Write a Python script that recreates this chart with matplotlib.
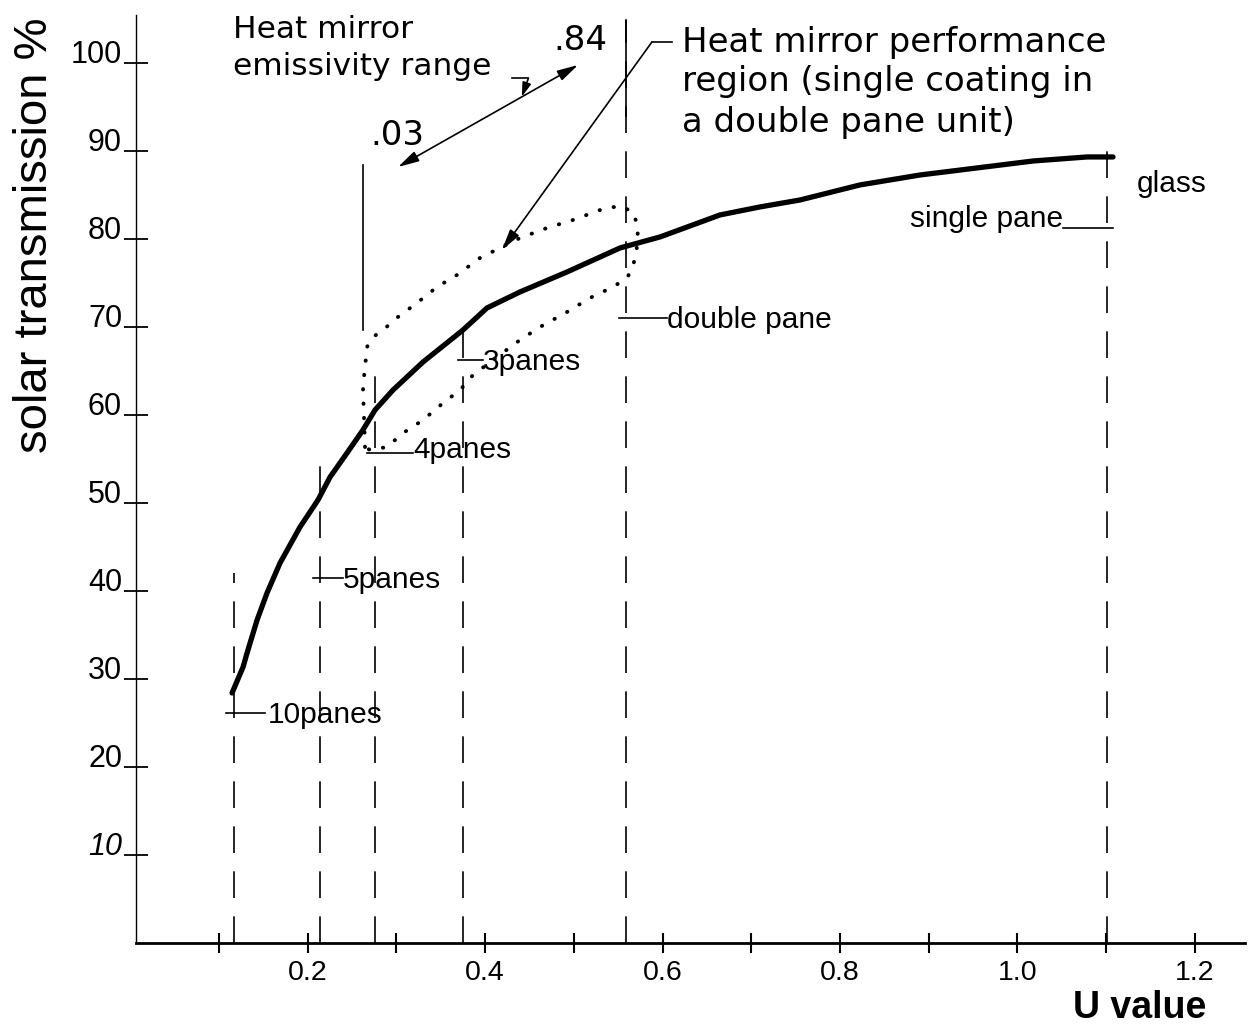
import matplotlib
matplotlib.use("Agg")
import matplotlib.pyplot as plt

# ---------------- data ----------------
# main curve: solar transmission (%) versus U value
u_curve = [0.1147, 0.1271, 0.1316, 0.1429, 0.1541, 0.1688, 0.1913, 0.2116,
           0.2252, 0.2443, 0.2623, 0.2759, 0.2962, 0.3300, 0.3751, 0.4021,
           0.4393, 0.4923, 0.5521, 0.5972, 0.6648, 0.7099, 0.7550, 0.8226,
           0.8903, 0.9545, 1.0177, 1.0786, 1.1079]
t_curve = [28.41, 31.36, 32.95, 36.70, 39.77, 43.18, 47.27, 50.34,
           52.95, 55.68, 58.30, 60.57, 62.84, 66.02, 69.66, 72.16,
           73.98, 76.25, 78.98, 80.23, 82.73, 83.64, 84.43, 86.14,
           87.27, 88.07, 88.86, 89.32, 89.32]

# dotted "heat mirror performance region" outline
region_u = [0.2646, 0.2623, 0.2669, 0.2736, 0.2849, 0.3018, 0.3232, 0.3458,
            0.3683, 0.3942, 0.4168, 0.4393, 0.4698, 0.4991, 0.5329, 0.5521,
            0.5667, 0.5724, 0.5712, 0.5667, 0.5600, 0.5442, 0.5183, 0.4923,
            0.4619, 0.4393, 0.4134, 0.3864, 0.3718, 0.3526, 0.3300, 0.3075,
            0.2894, 0.2703, 0.2646]
region_t = [56.36, 63.18, 67.73, 68.86, 69.66, 71.14, 72.73, 74.55,
            75.91, 77.84, 78.98, 80.11, 81.25, 82.16, 83.41, 83.75,
            83.07, 81.36, 79.09, 76.82, 75.57, 74.55, 73.30, 71.70,
            70.00, 68.52, 66.59, 64.55, 62.84, 61.36, 59.43, 57.95,
            56.36, 56.02, 56.36]

# glazing configurations (vertical reference lines)
pane_names = ["10panes", "5panes", "4panes", "3panes", "double pane", "single pane"]
pane_u = [0.117, 0.214, 0.276, 0.375, 0.559, 1.101]
pane_line_top = [42.0, 55.7, 66.0, 70.8, 104.9, 90.1]

# heat mirror emissivity range markers
emissivity_labels = [".03", ".84"]
emissivity_u = [0.262, 0.559]

x_ticks = [0.1, 0.2, 0.3, 0.4, 0.5, 0.6, 0.7, 0.8, 0.9, 1.0, 1.1, 1.2]
x_tick_labels = ["", "0.2", "", "0.4", "", "0.6", "", "0.8", "", "1.0", "", "1.2"]
y_ticks = [10, 20, 30, 40, 50, 60, 70, 80, 90, 100]
y_tick_labels = ["10", "20", "30", "40", "50", "60", "70", "80", "90", "100"]

# ---------------- figure ----------------
plt.rcParams["font.family"] = ["Liberation Sans", "DejaVu Sans"]
W, H = 1249, 1036
fig = plt.figure(figsize=(W / 100, H / 100), dpi=100)
ax = fig.add_axes([136 / W, 93 / H, 1109 / W, 928 / H])
ax.set_xlim(0.0064, 1.2567)
ax.set_ylim(0, 105.45)

for s in ("top", "right"):
    ax.spines[s].set_visible(False)
ax.spines["left"].set_linewidth(1.0)
ax.spines["bottom"].set_linewidth(2.0)

ax.set_xticks(x_ticks, labels=x_tick_labels, fontsize=20.5)
ax.set_yticks(y_ticks, labels=y_tick_labels, va="baseline", fontsize=22)
ax.tick_params(axis="y", direction="inout", length=17, width=1.3, pad=1.5)
ax.tick_params(axis="x", direction="inout", length=15, width=1.5, pad=5)
ax.get_yticklabels()[0].set_style("italic")

ax.set_ylabel("solar transmission %", fontsize=34, va="baseline")
ax.yaxis.set_label_coords(-0.0803, 0.7629)
ax.set_xlabel("U value", fontsize=27, fontweight="bold", va="baseline")
ax.xaxis.set_label_coords(0.9053, -0.0808)

# main curve
ax.plot(u_curve, t_curve, color="black", lw=3.8, solid_capstyle="round",
        solid_joinstyle="round", zorder=5)

# dotted performance region
ax.plot(region_u, region_t, color="black", lw=2.8, ls=(0, (0.1, 3.6)),
        dash_capstyle="round", zorder=4)

# vertical dashed pane lines
for u, top in zip(pane_u, pane_line_top):
    ax.plot([u, u], [0, top], color="black", lw=1.2, ls=(0, (16, 11)), zorder=3)
# solid top part of the .84 / double pane line
ax.plot([emissivity_u[1]] * 2, [94.0, 104.9], color="black", lw=1.2, zorder=3)
# solid .03 marker line
ax.plot([emissivity_u[0]] * 2, [69.7, 88.4], color="black", lw=1.2, zorder=3)

# pane labels with leader ticks
lab_fs = 21.5
leaders = [  # (x0, x1, y)
    (0.1081, 0.1518, 26.1),
    (0.2063, 0.2400, 41.5),
    (0.2667, 0.3185, 55.7),
    (0.3693, 0.3975, 66.25),
    (0.5509, 0.6049, 71.0),
    (1.0516, 1.1079, 81.25),
]
label_pos = [  # (x, baseline y, ha)
    (0.1551, 25.0, "left"),
    (0.2396, 40.3, "left"),
    (0.3187, 55.1, "left"),
    (0.3976, 65.1, "left"),
    (0.6049, 69.9, "left"),
    (1.0516, 81.4, "right"),
]
for name, (x0, x1, yl), (tx, ty, ha) in zip(pane_names, leaders, label_pos):
    ax.plot([x0, x1], [yl, yl], color="black", lw=1.2, zorder=3)
    ax.text(tx, ty, name, fontsize=lab_fs, ha=ha, va="baseline")
ax.text(1.135, 85.3, "glass", fontsize=lab_fs, ha="left", va="baseline")

# emissivity range annotation
lettering = ["DejaVu Sans"]
ax.text(0.1158, 102.8, "Heat mirror", fontsize=22.5, family=lettering, va="baseline")
ax.text(0.1158, 98.6, "emissivity range", fontsize=22.5, family=lettering, va="baseline")
ax.text(0.3007, 90.7, emissivity_labels[0], fontsize=24.5, family=lettering,
        ha="center", va="baseline")
ax.text(0.5071, 101.5, emissivity_labels[1], fontsize=24.5, family=lettering,
        ha="center", va="baseline")
ax.annotate("", xy=(0.3018, 88.18), xytext=(0.5048, 99.77),
            arrowprops=dict(arrowstyle="<|-|>,head_length=0.85,head_width=0.22",
                            mutation_scale=15, lw=1.2, color="black",
                            shrinkA=0, shrinkB=0))
ax.plot([0.4302, 0.4488], [98.26, 98.26], color="black", lw=1.2)
ax.annotate("", xy=(0.4414, 96.17), xytext=(0.4488, 98.26),
            arrowprops=dict(arrowstyle="-|>,head_length=0.7,head_width=0.22",
                            mutation_scale=12, lw=1.2, color="black",
                            shrinkA=0, shrinkB=0))

# performance region annotation
ax.text(0.6219, 101.25, "Heat mirror performance", fontsize=24.5, family=lettering,
        va="baseline")
ax.text(0.6219, 96.82, "region (single coating in", fontsize=24.5, family=lettering,
        va="baseline")
ax.text(0.6219, 92.16, "a double pane unit)", fontsize=24.5, family=lettering,
        va="baseline")
ax.plot([0.6107, 0.5881], [102.39, 102.39], color="black", lw=1.2)
ax.annotate("", xy=(0.4190, 78.75), xytext=(0.5881, 102.39),
            arrowprops=dict(arrowstyle="-|>,head_length=0.85,head_width=0.22",
                            mutation_scale=15, lw=1.2, color="black",
                            shrinkA=0, shrinkB=0))

fig.savefig("out.png", dpi=100)
